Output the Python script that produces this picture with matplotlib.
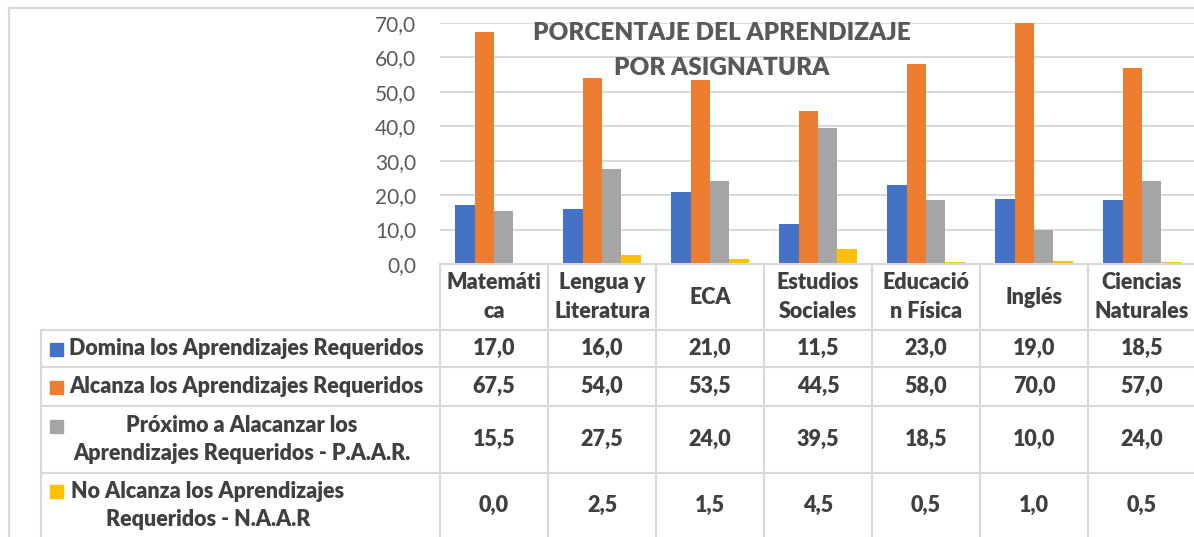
import numpy as np
import matplotlib.pyplot as plt

plt.rcParams['font.family'] = ['Lato', 'DejaVu Sans']

#%% Data
headers = ['Matemáti\nca', 'Lengua y\nLiteratura', 'ECA', 'Estudios\nSociales',
           'Educació\nn Física', 'Inglés', 'Ciencias\nNaturales']
series_names = ['Domina los Aprendizajes Requeridos',
                'Alcanza los Aprendizajes Requeridos',
                'Próximo a Alacanzar los\nAprendizajes Requeridos - P.A.A.R.',
                'No Alcanza los Aprendizajes\nRequeridos - N.A.A.R']
domina = [17.0, 16.0, 21.0, 11.5, 23.0, 19.0, 18.5]
alcanza = [67.5, 54.0, 53.5, 44.5, 58.0, 70.0, 57.0]
proximo = [15.5, 27.5, 24.0, 39.5, 18.5, 10.0, 24.0]
no_alcanza = [0.0, 2.5, 1.5, 4.5, 0.5, 1.0, 0.5]
colors = ['#4472C4', '#ED7D31', '#A5A5A5', '#FFC000']
yticks = [0, 10, 20, 30, 40, 50, 60, 70]

def fmt(v):
    return ('%.1f' % v).replace('.', ',')

#%% Figure (pixel layout)
W, H = 1194, 537
fig = plt.figure(figsize=(W/100, H/100), dpi=100)

x0, x1 = 440, 1196      # plot area / table columns
ytop, ybase = 23, 264   # 70 and 0
ax = fig.add_axes([x0/W, (H-ybase)/H, (x1-x0)/W, (ybase-ytop)/H])

data = [domina, alcanza, proximo, no_alcanza]
xx = np.arange(len(headers))
bw = 0.18
for k, vals in enumerate(data):
    ax.bar(xx + (k-1.5)*bw, vals, bw, color=colors[k], zorder=3)

ax.set_xlim(-0.5, len(headers)-0.5)
ax.set_ylim(0, 70)
ax.set_yticks(yticks)
ax.set_yticklabels([fmt(t) for t in yticks], color='#595959', fontsize=15)
ax.tick_params(axis='y', length=0, pad=17)
ax.set_xticks([])
ax.yaxis.grid(True, color='#D9D9D9', lw=1.4, zorder=0)
for s in ax.spines.values():
    s.set_visible(False)
ax.patch.set_alpha(0)

#%% Overlay in pixel coords for title and data table
ov = fig.add_axes([0, 0, 1, 1], zorder=5)
ov.set_xlim(0, W); ov.set_ylim(H, 0)
ov.axis('off'); ov.patch.set_alpha(0)

gc = '#D9D9D9'; tc = '#404040'
fs = 15.5; fw = 'heavy'
# outer chart frame
ov.plot([9, W], [8, 8], color=gc, lw=1.6)
ov.plot([9, 9], [8, H], color=gc, lw=1.6)

# title
ov.text(722, 33, 'PORCENTAJE DEL APRENDIZAJE', ha='center', va='center',
        fontsize=17.5, fontweight=fw, color='#595959')
ov.text(722, 68, 'POR ASIGNATURA', ha='center', va='center',
        fontsize=17.5, fontweight=fw, color='#595959')

# table grid
colw = (x1 - x0) / len(headers)
row_edges = [330, 367, 406, 473, 545]
tl = 41
ov.plot([x0, W], [ybase, ybase], color=gc, lw=1.5)
for y in row_edges[:-1]:
    ov.plot([tl, W], [y, y], color=gc, lw=1.5)
ov.plot([tl, tl], [row_edges[0], H], color=gc, lw=1.5)
for i in range(len(headers)+1):
    xc = x0 + i*colw
    ov.plot([xc, xc], [ybase, H], color=gc, lw=1.5)

# header labels
for i, h in enumerate(headers):
    xc = x0 + (i+0.5)*colw
    lines = h.split('\n')
    for j, ln in enumerate(lines):
        yy = 297 + (j - (len(lines)-1)/2) * 29
        ov.text(xc, yy, ln, ha='center', va='center', fontsize=fs,
                fontweight=fw, color=tc)

# row labels with legend keys
label_cx = [None, None, 242, 208]
for k, name in enumerate(series_names):
    r0, r1 = row_edges[k], row_edges[k+1]
    lines = name.split('\n')
    if k == 3:
        r1 = 537
    ymid = (r0 + r1) / 2
    for j, ln in enumerate(lines):
        yy = ymid + (j - (len(lines)-1)/2) * 28
        if label_cx[k] is None:
            ov.text(69, yy, ln, ha='left', va='center', fontsize=fs,
                    fontweight=fw, color=tc)
        else:
            ov.text(label_cx[k], yy, ln, ha='center', va='center', fontsize=fs,
                    fontweight=fw, color=tc)
    ykey = ymid - (len(lines)-1)/2 * 28
    ov.add_patch(plt.Rectangle((50, ykey-6), 13, 13, color=colors[k]))
    for i, v in enumerate(data[k]):
        ov.text(x0 + (i+0.5)*colw, ymid, fmt(v), ha='center', va='center',
                fontsize=fs, fontweight=fw, color=tc)

plt.savefig('out.png', dpi=100)
